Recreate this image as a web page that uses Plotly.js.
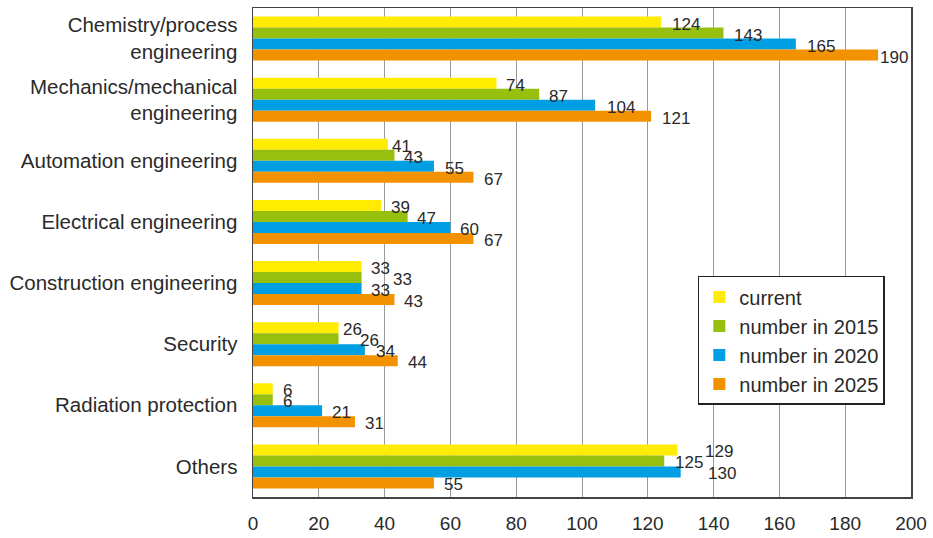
<!DOCTYPE html>
<html>
<head>
<meta charset="utf-8">
<script src="https://cdn.plot.ly/plotly-3.0.1.min.js"></script>
<style>html,body{margin:0;padding:0;background:#fff;}#chart{width:933px;height:538px;}</style>
</head>
<body>
<div id="chart"></div>
<script>
const categories = [
  'Chemistry/process<br>engineering',
  'Mechanics/mechanical<br>engineering',
  'Automation engineering',
  'Electrical engineering',
  'Construction engineering',
  'Security',
  'Radiation protection',
  'Others'
];
const seriesNames = ['current', 'number in 2015', 'number in 2020', 'number in 2025'];
const current  = [124, 74, 41, 39, 33, 26, 6, 129];
const num2015  = [143, 87, 43, 47, 33, 26, 6, 125];
const num2020  = [165, 104, 55, 60, 33, 34, 21, 130];
const num2025  = [190, 121, 67, 67, 43, 44, 31, 55];
const xTicks   = [0, 20, 40, 60, 80, 100, 120, 140, 160, 180, 200];

// label nudges in pixels (styling only)
const labelShift = [
  [9, 8, 2, 8, 7, 2, 8, 26],
  [9, 8, 8, 7, 29, 19, 8, 9],
  [9, 10, 9, 8, 7, 9, 8, 25],
  [0, 9, 9, 9, 8, 8, 8, 8]
];

const colors = ['#FFEC00', '#97BF0D', '#009FE3', '#F39200'];
const series = [current, num2015, num2020, num2025];
const bargap = 0.28;
const fontFam = '"Liberation Sans", Arial, Helvetica, sans-serif';
const txtColor = '#2a2a2a';

const traces = series.map((vals, i) => ({
  type: 'bar',
  orientation: 'h',
  name: seriesNames[i],
  x: vals,
  y: categories,
  marker: {color: colors[i], line: {width: 0}},
  hoverinfo: 'x+name'
}));

const annotations = [];
series.forEach((vals, i) => {
  const off = -(1 - bargap) / 2 + (i + 0.5) * (1 - bargap) / 4;
  vals.forEach((v, j) => {
    annotations.push({
      x: v, y: j + off, xref: 'x', yref: 'y',
      text: String(v), showarrow: false,
      xanchor: 'left', yanchor: 'middle',
      xshift: labelShift[i][j], yshift: -2,
      font: {family: fontFam, size: 17, color: txtColor}
    });
  });
});

const layout = {
  width: 933, height: 538,
  margin: {l: 253, r: 22, t: 8, b: 41},
  paper_bgcolor: '#fff', plot_bgcolor: '#fff',
  barmode: 'group', bargap: bargap, bargroupgap: 0,
  font: {family: fontFam, color: txtColor},
  xaxis: {
    range: [0, 200], tickvals: xTicks, ticktext: xTicks.map(String),
    showgrid: true, gridcolor: '#9a9a9a', gridwidth: 1,
    zeroline: false, showline: true, mirror: true, linecolor: '#444', linewidth: 1.5,
    ticks: '', ticklabelstandoff: 9,
    tickfont: {family: fontFam, size: 19, color: txtColor},
    fixedrange: true
  },
  yaxis: {
    type: 'category', autorange: 'reversed',
    showgrid: false, zeroline: false, showline: true, mirror: true, linecolor: '#444', linewidth: 1.5,
    ticks: '', ticklabelstandoff: 10,
    tickfont: {family: fontFam, size: 20.5, color: txtColor},
    fixedrange: true
  },
  legend: {
    x: 0.676, y: 0.452, xanchor: 'left', yanchor: 'top',
    bgcolor: '#fff', bordercolor: '#222', borderwidth: 1.5,
    traceorder: 'normal',
    font: {family: fontFam, size: 20, color: txtColor}
  },
  annotations: annotations,
  showlegend: true
};

Plotly.newPlot('chart', traces, layout, {displayModeBar: false, staticPlot: true});
</script>
</body>
</html>
